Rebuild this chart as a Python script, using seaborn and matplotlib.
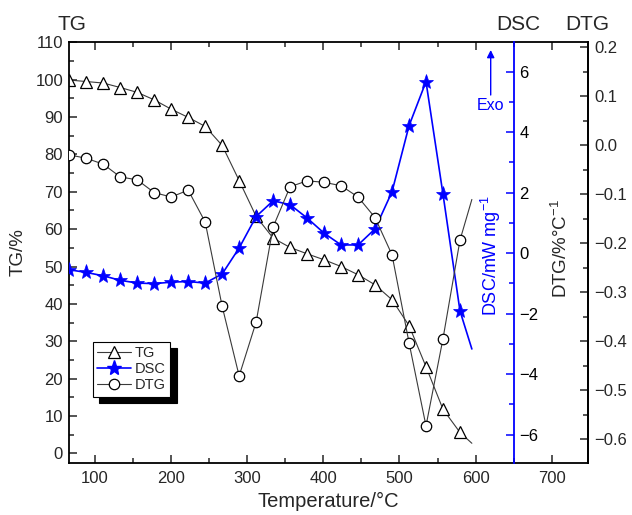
import matplotlib
matplotlib.use("Agg")
import matplotlib.pyplot as plt
import seaborn as sns
from matplotlib.lines import Line2D
from matplotlib.ticker import MultipleLocator, FuncFormatter

# ---------------- data ----------------
temperature = [66.5, 88.8, 111.1, 133.4, 155.7, 178.0, 200.3, 222.6, 244.9, 267.2,
               289.5, 311.8, 334.1, 356.4, 378.7, 401.0, 423.3, 445.6, 467.9, 490.2,
               512.5, 534.8, 557.1, 579.4]
tg_values = [99.9, 99.5, 99.1, 97.9, 96.6, 94.6, 92.1, 89.9, 87.5, 82.4,
             73.0, 63.4, 57.6, 55.1, 53.4, 51.8, 50.0, 47.8, 45.1, 41.1,
             34.2, 23.2, 11.8, 5.6]
dsc_values = [-0.55, -0.64, -0.75, -0.90, -0.99, -1.01, -0.96, -0.94, -0.99, -0.69,
              0.17, 1.21, 1.73, 1.60, 1.16, 0.66, 0.27, 0.27, 0.80, 2.03,
              4.21, 5.67, 1.95, -1.91]
dtg_values = [-0.020, -0.027, -0.039, -0.065, -0.071, -0.097, -0.106, -0.092, -0.157, -0.329,
              -0.471, -0.361, -0.167, -0.085, -0.073, -0.076, -0.083, -0.106, -0.148, -0.224,
              -0.403, -0.573, -0.395, -0.194]
# curves continue a little past the last marker
end_temperature = 595.0
tg_end, dsc_end, dtg_end = 2.7, -3.17, -0.111

x_ticks = [100, 200, 300, 400, 500, 600, 700]
tg_ticks = list(range(0, 111, 10))
dsc_ticks = [-6, -4, -2, 0, 2, 4, 6]
dtg_ticks = [-0.6, -0.5, -0.4, -0.3, -0.2, -0.1, 0.0, 0.1, 0.2]

# ---------------- style ----------------
sns.set_style("ticks")
plt.rcParams["font.family"] = ["Liberation Sans", "DejaVu Sans"]
plt.rcParams["mathtext.fontset"] = "custom"
plt.rcParams["mathtext.rm"] = "Liberation Sans"
plt.rcParams["mathtext.it"] = "Liberation Sans:italic"
plt.rcParams["axes.unicode_minus"] = True

W, H = 632, 515
fig = plt.figure(figsize=(W / 100, H / 100), dpi=100)
L, R, T, B = 68.6, 588.4, 42.3, 462.7
ax = fig.add_axes([L / W, 1 - B / H, (R - L) / W, (B - T) / H])
ax2 = ax.twinx()
ax3 = ax.twinx()

t_line = temperature + [end_temperature]
mark_idx = list(range(len(temperature)))
gray = "#3a3a3a"
blue = "#0000ff"

tri_ms, star_ms, circ_ms = 8, 11, 7.5

sns.lineplot(x=t_line, y=tg_values + [tg_end], ax=ax, color=gray, lw=0.8,
             marker="^", markersize=tri_ms, markerfacecolor="white",
             markeredgecolor="black", markeredgewidth=0.9,
             markevery=mark_idx, sort=False, errorbar=None)
sns.lineplot(x=t_line, y=dsc_values + [dsc_end], ax=ax2, color=blue, lw=1.2,
             marker="*", markersize=star_ms, markerfacecolor=blue,
             markeredgecolor=blue, markeredgewidth=0.5,
             markevery=mark_idx, sort=False, errorbar=None)
sns.lineplot(x=t_line, y=dtg_values + [dtg_end], ax=ax3, color=gray, lw=0.8,
             marker="o", markersize=circ_ms, markerfacecolor="white",
             markeredgecolor="black", markeredgewidth=0.9,
             markevery=mark_idx, sort=False, errorbar=None)

# ---------------- axes ----------------
ax.set_xlim(65.6, 748)
ax.set_ylim(-2.5, 110)
ax2.set_ylim(-6.93, 6.97)
ax3.set_ylim(-0.648, 0.2096)

ax.set_xticks(x_ticks)
ax.xaxis.set_minor_locator(MultipleLocator(50))
ax.set_yticks(tg_ticks)
ax.yaxis.set_minor_locator(MultipleLocator(5))
ax2.set_yticks(dsc_ticks)
ax2.yaxis.set_minor_locator(MultipleLocator(1))
ax3.set_yticks(dtg_ticks)
ax3.yaxis.set_minor_locator(MultipleLocator(0.05))

fmt_minus = lambda s: s.replace("-", "\u2212")
ax2.yaxis.set_major_formatter(FuncFormatter(lambda v, p: fmt_minus(f"{v:.0f}")))
ax3.yaxis.set_major_formatter(
    FuncFormatter(lambda v, p: fmt_minus(f"{v:.1f}") if abs(v) > 1e-9 else "0.0"))

for a in (ax, ax2, ax3):
    for s in a.spines.values():
        s.set_linewidth(1.3)
        s.set_color("black")

ax.tick_params(axis="x", which="both", direction="in", top=True, bottom=True,
               labelsize=12, pad=6, width=1.1)
ax.tick_params(axis="y", which="both", direction="in", right=False, left=True,
               labelsize=12, pad=4, width=1.1)
ax.tick_params(which="major", length=6)
ax.tick_params(which="minor", length=3.5)

for s in ("left", "top", "bottom"):
    ax2.spines[s].set_visible(False)
    ax3.spines[s].set_visible(False)
ax2.spines["right"].set_position(("axes", 0.857))
ax2.spines["right"].set_color(blue)
ax2.spines["right"].set_linewidth(1.3)
ax2.tick_params(axis="y", which="both", direction="in", colors=blue,
                labelcolor="black", labelsize=12, width=1.1, pad=4)
ax2.tick_params(which="major", length=6)
ax2.tick_params(which="minor", length=3.5)
ax3.tick_params(axis="y", which="both", direction="in", labelsize=12, width=1.1, pad=4)
ax3.tick_params(which="major", length=6)
ax3.tick_params(which="minor", length=3.5)

ax.set_xlabel("Temperature/\u00b0C", fontsize=14.5, labelpad=4)
ax.set_ylabel("TG/%", fontsize=13.5, labelpad=6)
ax2.set_ylabel("")
ax3.set_ylabel("")

# ---------------- extra text ----------------
def fx(px):
    return px / W

def fy(py):
    return 1 - py / H

fig.text(fx(72), fy(24), "TG", fontsize=15, ha="center", va="center")
fig.text(fx(518), fy(24), "DSC", fontsize=15, ha="center", va="center")
fig.text(fx(587), fy(24), "DTG", fontsize=15, ha="center", va="center")
fig.text(fx(491), fy(256), "DSC/mW mg$^{\\mathregular{-1}}$", fontsize=13, color=blue,
         rotation=90, ha="center", va="center")
fig.text(fx(561), fy(248), "DTG/%\u00b0C$^{\\mathregular{-1}}$", fontsize=13.5,
         rotation=90, ha="center", va="center")
fig.text(fx(490), fy(106), "Exo", fontsize=11.5, color=blue, ha="center", va="center")
ax.annotate("", xy=(fx(490.7), fy(50)), xycoords="figure fraction",
            xytext=(fx(490.7), fy(95)), textcoords="figure fraction",
            arrowprops=dict(arrowstyle="-|>", color=blue, lw=1.0, mutation_scale=11,
                            shrinkA=0, shrinkB=0))

# ---------------- legend ----------------
handles = [
    Line2D([], [], color=gray, lw=0.8, marker="^", markersize=tri_ms,
           markerfacecolor="white", markeredgecolor="black", markeredgewidth=0.9),
    Line2D([], [], color=blue, lw=1.2, marker="*", markersize=star_ms,
           markerfacecolor=blue, markeredgecolor=blue),
    Line2D([], [], color=gray, lw=0.8, marker="o", markersize=circ_ms,
           markerfacecolor="white", markeredgecolor="black", markeredgewidth=0.9),
]
leg = ax3.legend(handles, ["TG", "DSC", "DTG"], loc="lower left",
                 bbox_to_anchor=((92.7 - L) / (R - L), (B - 396.7) / (B - T)),
                 borderaxespad=0, fontsize=10.5, frameon=True, fancybox=False,
                 edgecolor="black", framealpha=1, handlelength=2.3,
                 handletextpad=0.3, labelspacing=0.15, borderpad=0.3,
                 shadow={"ox": 4.5, "oy": -4.5, "color": "black", "alpha": 1})
leg.get_frame().set_linewidth(0.8)

fig.savefig("out.png", dpi=100)
